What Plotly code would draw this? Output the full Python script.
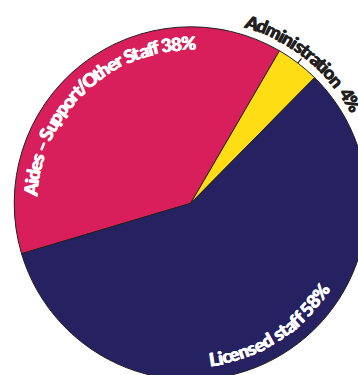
import math
import plotly.graph_objects as go

# Staff composition shares (percent)
categories = ["Aides – Support/Other Staff", "Administration", "Licensed staff"]
shares = [38, 4, 58]
slice_colors = ["#D81E5B", "#FFDD15", "#262262"]
label_colors = ["#FFFFFF", "#231F20", "#FFFFFF"]
label_gaps = [" ", "  ", " "]

# Canvas and pie geometry (pixels, y measured from the top edge)
W, H = 400, 400
CX, CY, R = 190.7, 203.3, 176.5
START = 253.4          # clockwise angle from 12 o'clock where the first slice begins
FONT = "Lato, Roboto, sans-serif"
SIZE = 18.5

# label placement per slice: radius of text centre line, shift from slice middle, reading direction
label_radius = [160, 191, 157]
label_shift = [-4.5, 1.5, -1.5]
label_flip = [False, False, True]

# approximate advance widths (em) of Lato Bold
CHAR_W = {
    " ": 0.193, "A": 0.68, "L": 0.52, "O": 0.76, "S": 0.52, "a": 0.51,
    "c": 0.46, "d": 0.57, "e": 0.53, "f": 0.34, "h": 0.57, "i": 0.25,
    "m": 0.86, "n": 0.57, "o": 0.57, "p": 0.57, "r": 0.39, "s": 0.43,
    "t": 0.37, "u": 0.57, "/": 0.38, "–": 0.58, "%": 0.80, "3": 0.58,
    "4": 0.58, "5": 0.58, "8": 0.58,
}
WIDTH_SCALE = 0.93

fig = go.Figure(
    go.Pie(
        labels=categories,
        values=shares,
        sort=False,
        direction="clockwise",
        rotation=START,
        marker=dict(colors=slice_colors, line=dict(color="#231F20", width=1)),
        textinfo="none",
        hoverinfo="label+percent",
        showlegend=False,
        domain=dict(
            x=[(CX - R) / W, (CX + R) / W],
            y=[(H - CY - R) / H, (H - CY + R) / H],
        ),
    )
)


def to_paper(theta_deg, radius):
    t = math.radians(theta_deg)
    x = CX + radius * math.sin(t)
    y = CY - radius * math.cos(t)
    return x / W, 1 - y / H


def arc_text(text, mid_deg, radius, color, flip):
    """Lay a string along a circular arc, one rotated annotation per glyph."""
    widths = [CHAR_W.get(ch, 0.55) * WIDTH_SCALE * SIZE for ch in text]
    span = math.degrees(sum(widths) / radius)
    sign = -1 if flip else 1
    theta0 = mid_deg - sign * span / 2
    acc = 0.0
    # a thin same-colour halo gives the heavy, condensed headline look
    halo = f"0.45px 0 0 {color}, -0.45px 0 0 {color}"
    for ch, w in zip(text, widths):
        th = theta0 + sign * math.degrees((acc + w / 2) / radius)
        acc += w
        if ch == " ":
            continue
        x, y = to_paper(th, radius)
        ang = th - (180 if flip else 0)
        ang = (ang + 180) % 360 - 180
        fig.add_annotation(
            x=x, y=y, xref="paper", yref="paper", text=ch,
            showarrow=False, textangle=ang, xanchor="center", yanchor="middle",
            font=dict(family=FONT, size=SIZE, color=color, weight=900,
                      shadow=halo),
        )


total = sum(shares)
cum = 0
for i, (cat, val) in enumerate(zip(categories, shares)):
    a0 = START + 360 * cum / total
    a1 = START + 360 * (cum + val) / total
    cum += val
    mid = (a0 + a1) / 2
    arc_text(f"{cat}{label_gaps[i]}{val}%", mid + label_shift[i],
             label_radius[i], label_colors[i], label_flip[i])
    if label_radius[i] > R:
        # short leader tick for a label sitting outside the pie
        x0, y0 = to_paper(mid, R)
        x1, y1 = to_paper(mid, R + 6)
        fig.add_shape(type="line", xref="paper", yref="paper", x0=x0, y0=y0,
                      x1=x1, y1=y1, line=dict(color="#231F20", width=1.2))

fig.update_layout(
    width=W, height=H, autosize=False,
    margin=dict(l=0, r=0, t=0, b=0),
    paper_bgcolor="white", plot_bgcolor="white",
)

fig.write_html(
    "out.html",
    post_script="document.body.style.margin='0';document.body.style.overflow='hidden';",
)
